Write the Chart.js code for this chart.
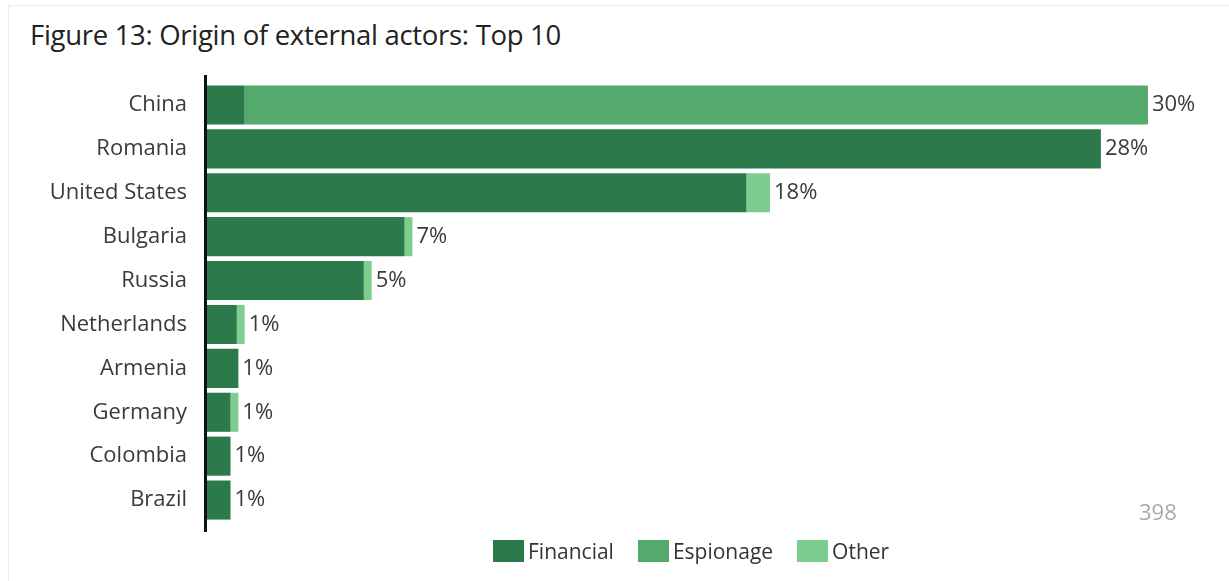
<!DOCTYPE html>
<html>
<head>
<meta charset="utf-8">
<script src="https://cdn.jsdelivr.net/npm/chart.js@4/dist/chart.umd.min.js"></script>
<style>
  html, body { margin: 0; padding: 0; background: #fff; }
  body { width: 1229px; height: 581px; position: relative; overflow: hidden; font-family: 'Open Sans', sans-serif; }
  .frame { position: absolute; left: 8px; top: 5px; right: 0; bottom: 0; border-left: 1px solid #ececec; border-top: 1px solid #ececec; }
  .title { position: absolute; left: 30px; top: 16px; font-size: 27.5px; color: #222; letter-spacing: -0.3px; }
  .page { position: absolute; left: 1139px; top: 496px; font-size: 22px; color: #aaa; }
  #chartWrap { position: absolute; left: 0; top: 0; width: 1229px; height: 581px; }
  .legend { position: absolute; top: 537px; left: 493px; display: flex; align-items: center; font-size: 21px; color: #333; }
  .legend span.box { display: inline-block; width: 31px; height: 22px; margin-right: 4px; }
  .legend .item { display: flex; align-items: center; margin-right: 24px; }
</style>
</head>
<body>
<div class="frame"></div>
<div class="title">Figure 13: Origin of external actors: Top 10</div>
<div id="chartWrap"><canvas id="origin"></canvas></div>
<div class="legend" id="legend"></div>
<div class="page">398</div>
<script>
(function () {
  'use strict';

  var countries = ['China', 'Romania', 'United States', 'Bulgaria', 'Russia', 'Netherlands', 'Armenia', 'Germany', 'Colombia', 'Brazil'];
  var financial = [1.2, 28.5, 17.2, 6.3, 5.0, 0.95, 1.0, 0.75, 0.75, 0.75];
  var espionage = [28.8, 0, 0, 0, 0, 0, 0, 0, 0, 0];
  var other = [0, 0, 0.75, 0.25, 0.25, 0.25, 0, 0.25, 0, 0];
  var totals = ['30%', '28%', '18%', '7%', '5%', '1%', '1%', '1%', '1%', '1%'];

  var colors = {
    financial: '#2c7a4b',
    espionage: '#54a96c',
    other: '#7dcd8e',
    text: '#3a3a3a'
  };

  var font = "'Open Sans', sans-serif";

  // axis line + labels at end of each stack
  var endLabels = {
    id: 'endLabels',
    afterDatasetsDraw: function (chart) {
      var ctx = chart.ctx;
      var area = chart.chartArea;
      var meta = chart.getDatasetMeta(chart.data.datasets.length - 1);
      ctx.save();
      ctx.strokeStyle = '#111';
      ctx.lineWidth = 3;
      ctx.beginPath();
      ctx.moveTo(area.left - 1.5, area.top - 8);
      ctx.lineTo(area.left - 1.5, area.bottom + 10);
      ctx.stroke();

      ctx.fillStyle = colors.text;
      ctx.font = '22px ' + font;
      ctx.textBaseline = 'middle';
      ctx.textAlign = 'left';
      var xs = chart.scales.x;
      countries.forEach(function (c, i) {
        var sum = financial[i] + espionage[i] + other[i];
        var x = xs.getPixelForValue(sum) + 4;
        var y = meta.data[i].y;
        ctx.fillText(totals[i], x, y);
      });
      ctx.restore();
    }
  };

  var ctx = document.getElementById('origin').getContext('2d');
  var chart = new Chart(ctx, {
    type: 'bar',
    data: {
      labels: countries,
      datasets: [
        { label: 'Financial', data: financial, backgroundColor: colors.financial },
        { label: 'Espionage', data: espionage, backgroundColor: colors.espionage },
        { label: 'Other', data: other, backgroundColor: colors.other }
      ]
    },
    options: {
      indexAxis: 'y',
      responsive: true,
      maintainAspectRatio: false,
      animation: false,
      barPercentage: 0.89,
      categoryPercentage: 1,
      layout: { padding: { top: 83, bottom: 59, left: 0, right: 34 } },
      scales: {
        x: {
          stacked: true,
          min: 0,
          max: 31.5,
          display: false
        },
        y: {
          stacked: true,
          grid: { display: false, drawTicks: false },
          border: { display: false },
          ticks: { color: colors.text, font: { family: font, size: 22 }, padding: 20 },
          afterFit: function (scale) { scale.width = 207; }
        }
      },
      plugins: {
        legend: { display: false },
        tooltip: { enabled: false }
      }
    },
    plugins: [endLabels]
  });

  // html legend
  var legend = document.getElementById('legend');
  chart.data.datasets.forEach(function (ds) {
    var item = document.createElement('div');
    item.className = 'item';
    item.innerHTML = '<span class="box" style="background:' + ds.backgroundColor + '"></span>' + ds.label;
    legend.appendChild(item);
  });
})();
</script>
</body>
</html>
